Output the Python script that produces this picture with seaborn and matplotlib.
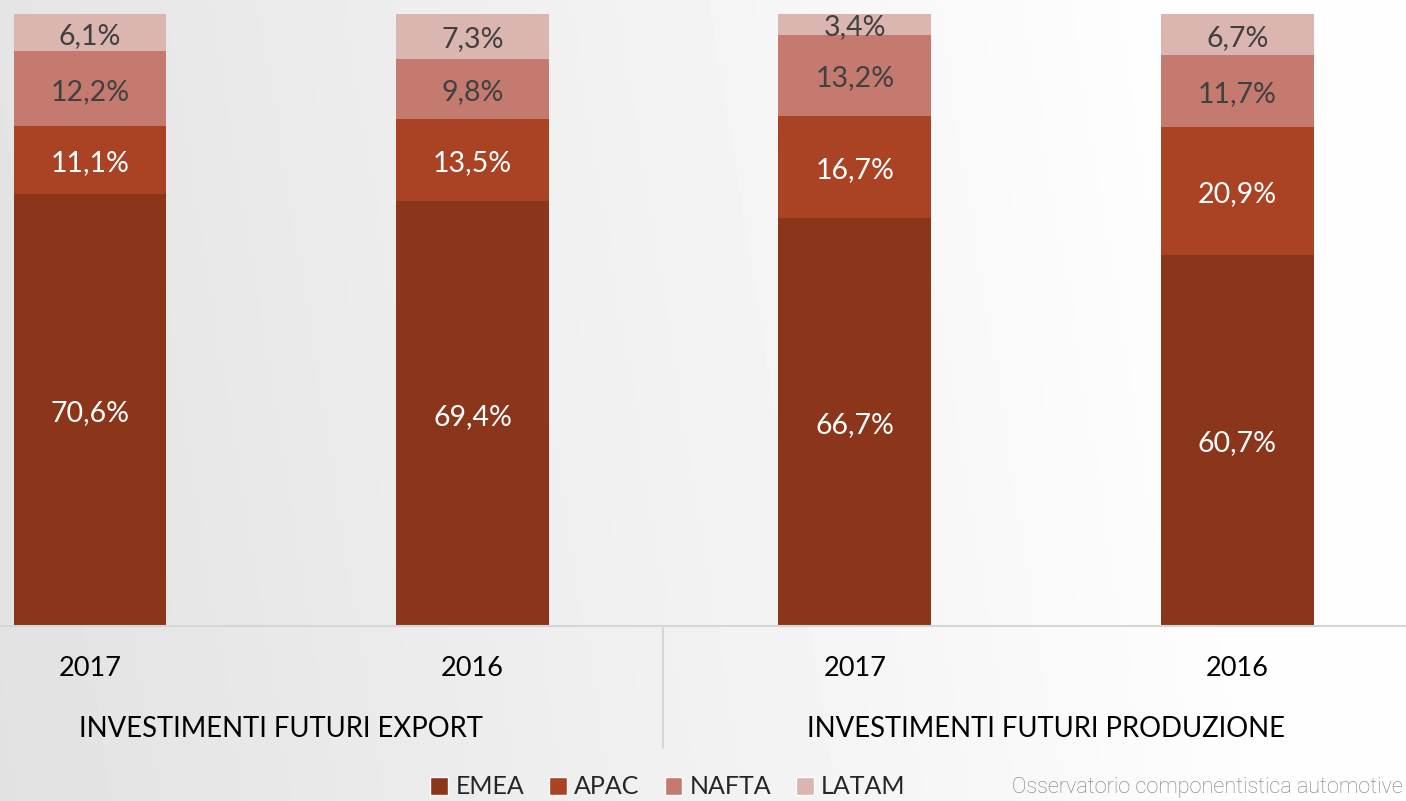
import numpy as np
import pandas as pd
import matplotlib.pyplot as plt
import seaborn as sns
from matplotlib.patches import Patch

# data (percent shares)
years = ['2017', '2016', '2017', '2016']
groups = ['INVESTIMENTI FUTURI EXPORT', 'INVESTIMENTI FUTURI PRODUZIONE']
regions = ['EMEA', 'APAC', 'NAFTA', 'LATAM']
emea = [70.6, 69.4, 66.7, 60.7]
apac = [11.1, 13.5, 16.7, 20.9]
nafta = [12.2, 9.8, 13.2, 11.7]
latam = [6.1, 7.3, 3.4, 6.7]
colors = ['#8B351B', '#A94323', '#C47A6E', '#DBB5AF']
label_colors = ['white', 'white', '#404040', '#404040']

sns.set_theme(style='white')
plt.rcParams['font.family'] = ['Lato', 'DejaVu Sans']

df = pd.DataFrame({'pos': range(4), 'EMEA': emea, 'APAC': apac,
                   'NAFTA': nafta, 'LATAM': latam})
cum = df[regions].cumsum(axis=1)

fig = plt.figure(figsize=(14.06, 8.01), dpi=100)

# background gradient, light gray on the left to white on the right
bg = fig.add_axes([0, 0, 1, 1], zorder=-10)
gx = np.linspace(0, 1, 400)
gy = np.linspace(0, 1, 200)
GX, GY = np.meshgrid(gx, gy)
grad = 0.885 + 0.11 * np.clip(GX * 1.1 + (1 - GY) * 0.1, 0, 1)
bg.imshow(grad, cmap='gray', vmin=0, vmax=1, aspect='auto', extent=[0, 1, 0, 1])
bg.axis('off')

ax = fig.add_axes([0, 175 / 801, 1, 612 / 801])
ax.patch.set_alpha(0)

# stacked bars: draw cumulative totals from the top segment down
for reg, col in reversed(list(zip(regions, colors))):
    sns.barplot(x=df['pos'], y=cum[reg], color=col, width=0.4,
                saturation=1, ax=ax, linewidth=0)

for i in range(4):
    base = 0
    for reg, lc in zip(regions, label_colors):
        v = df.loc[i, reg]
        ax.text(i, base + v / 2 - 0.5, f'{v:.1f}%'.replace('.', ','), ha='center',
                va='center', fontsize=20.5, color=lc)
        base += v

ax.set_xlim(-90 / 382.5, (1406 - 90) / 382.5)
ax.set_ylim(0, 100)
ax.set_xlabel('')
ax.set_ylabel('')
ax.set_xticks([])
ax.set_yticks([])
for s in ['top', 'right', 'left']:
    ax.spines[s].set_visible(False)
ax.spines['bottom'].set_color('#d6d6d6')
ax.spines['bottom'].set_linewidth(1.5)

# category labels below the axis
for i, yr in enumerate(years):
    fig.text((90 + 382.5 * i) / 1406, 1 - 669 / 801, yr, ha='center',
             va='center', fontsize=19.5, color='black')
for j, g in enumerate(groups):
    fig.text((281 + 765 * j) / 1406, 1 - 729 / 801, g, ha='center',
             va='center', fontsize=19.8, color='black')
fig.add_artist(plt.Line2D([663 / 1406, 663 / 1406], [1 - 626 / 801, 1 - 748 / 801],
                          color='#d6d6d6', linewidth=1.5))

handles = [Patch(facecolor=c, label=r) for r, c in zip(regions, colors)]
fig.legend(handles=handles, loc='center', bbox_to_anchor=(668 / 1406, 1 - 787 / 801),
           ncol=4, frameon=False, fontsize=18, handlelength=0.7, handleheight=0.7,
           handletextpad=0.3, columnspacing=1.0)

fig.text(1403 / 1406, 1 - 788 / 801, 'Osservatorio componentistica automotive',
         ha='right', va='center', fontsize=15.6, color='#7a7a7a',
         family=['Roboto', 'DejaVu Sans'], fontweight='light')

fig.savefig('out.png', dpi=100)
